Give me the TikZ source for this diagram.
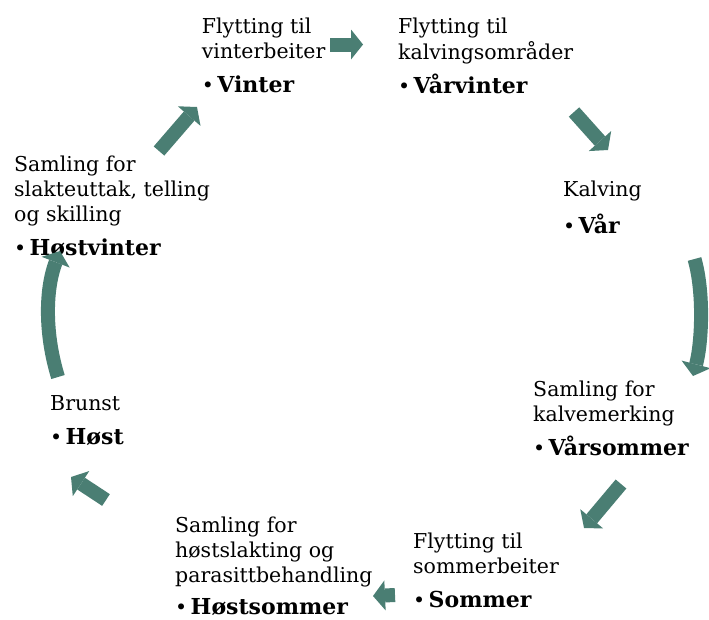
\documentclass[tikz,border=0pt]{standalone}
\usepackage{fontspec}
\setmainfont{DejaVu Serif}
\usetikzlibrary{arrows.meta}
\definecolor{arr}{HTML}{4A7E73}
\newcommand{\stagehead}[1]{•\,{\fontsize{22}{25}\selectfont\textbf{#1}}}
\begin{document}
\begin{tikzpicture}[x=1pt,y=-1pt,
  stage/.style={anchor=north west, inner sep=0pt, align=left,
    font=\fontsize{20.5}{25}\selectfont},
  cyc/.style={draw=arr, line width=14pt,
    -{Triangle[length=12pt,width=30pt,line width=0pt]}}]
\useasboundingbox (0,0) rectangle (709,619);
% stages
\node[stage] (vinter) at (201.7,15.5) {\strut Flytting til\\vinterbeiter\\[9pt]\stagehead{Vinter}};
\node[stage] (varvinter) at (398,15.5) {\strut Flytting til\\kalvingsområder\\[9pt]\stagehead{Vårvinter}};
\node[stage] (var) at (563,178.5) {\strut Kalving\\[9pt]\stagehead{Vår}};
\node[stage] (varsommer) at (533,378.5) {\strut Samling for\\kalvemerking\\[9pt]\stagehead{Vårsommer}};
\node[stage] (sommer) at (413,530.5) {\strut Flytting til\\sommerbeiter\\[9pt]\stagehead{Sommer}};
\node[stage] (hostsommer) at (175,515) {\strut Samling for\\høstslakting og\\parasittbehandling\\[7pt]\stagehead{Høstsommer}};
\node[stage] (host) at (50,392.5) {\strut Brunst\\[9pt]\stagehead{Høst}};
\node[stage] (hostvinter) at (14,153.5) {\strut Samling for\\slakteuttak, telling\\og skilling\\[9pt]\stagehead{Høstvinter}};
% arrow end points
\coordinate (a1s) at (330,44.5);  \coordinate (a1e) at (363,44.5);
\coordinate (a2s) at (574,112);   \coordinate (a2e) at (608,150);
\coordinate (a3s) at (694.5,259); \coordinate (a3e) at (693,376);
\coordinate (a4s) at (621,484);   \coordinate (a4e) at (584,528);
\coordinate (a5s) at (395,595);   \coordinate (a5e) at (373,596);
\coordinate (a6s) at (106,500);   \coordinate (a6e) at (71,477);
\coordinate (a7s) at (58,377);    \coordinate (a7e) at (60,251);
\coordinate (a8s) at (159,151);   \coordinate (a8e) at (197,107);
% arrows
\draw[cyc] (a1s) -- (a1e);
\draw[cyc] (a2s) -- (a2e);
\draw[cyc] (a3s) .. controls (704,292) and (702,342) .. (a3e);
\draw[cyc] (a4s) -- (a4e);
\draw[cyc] (a5s) -- (a5e);
\draw[cyc] (a6s) -- (a6e);
\draw[cyc] (a7s) .. controls (45,335) and (45,290) .. (a7e);
\draw[cyc] (a8s) -- (a8e);
\end{tikzpicture}
\end{document}
